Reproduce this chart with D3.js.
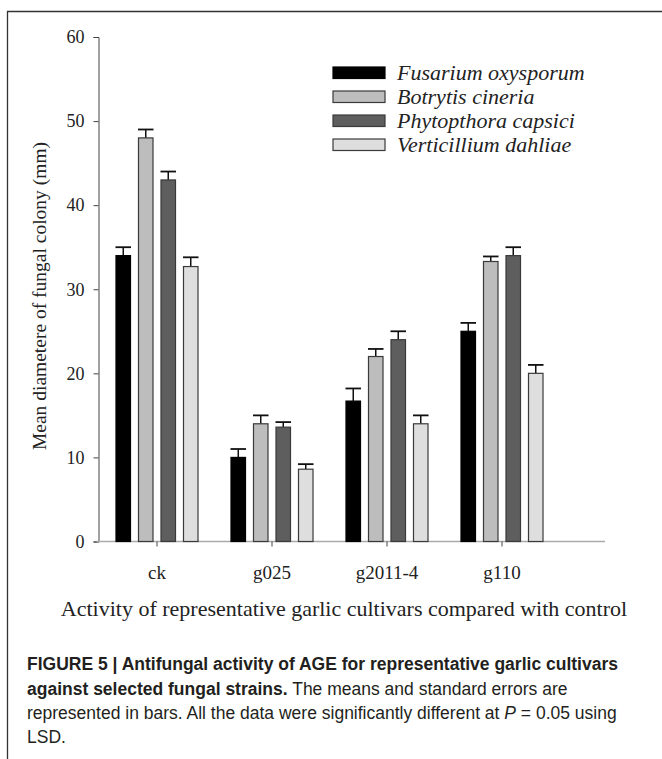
<!DOCTYPE html>
<html>
<head>
<meta charset="utf-8">
<script src="https://cdn.jsdelivr.net/npm/d3@7"></script>
<style>
  html, body { margin: 0; padding: 0; background: #fff; }
  svg { display: block; }
</style>
</head>
<body>
<svg id="chart" width="662" height="759"></svg>
<script>
const categories = ["ck", "g025", "g2011-4", "g110"];
const seriesNames = ["Fusarium oxysporum", "Botrytis cineria", "Phytopthora capsici", "Verticillium dahliae"];
const fusariumMean = [34.0, 10.0, 16.7, 25.0];
const fusariumErr  = [1.0, 1.0, 1.5, 1.0];
const botrytisMean = [48.0, 14.0, 22.0, 33.3];
const botrytisErr  = [1.0, 1.0, 0.9, 0.6];
const phytoMean    = [43.0, 13.6, 24.0, 34.0];
const phytoErr     = [1.0, 0.6, 1.0, 1.0];
const vertMean     = [32.7, 8.6, 14.0, 20.0];
const vertErr      = [1.1, 0.6, 1.0, 1.0];
const yTicks = [0, 10, 20, 30, 40, 50, 60];
const fills = ["#000000", "#bdbdbd", "#5e5e5e", "#dedede"];

const means = [fusariumMean, botrytisMean, phytoMean, vertMean];
const errs = [fusariumErr, botrytisErr, phytoErr, vertErr];

const svg = d3.select("#chart");
const serif = "'Liberation Serif', 'Times New Roman', serif";
const sans = "'Liberation Sans', Arial, Helvetica, sans-serif";

// frame
svg.append("path")
  .attr("d", "M7.5,759 L7.5,11.5 L662,11.5")
  .attr("fill", "none").attr("stroke", "#333").attr("stroke-width", 1.3);

const y = d3.scaleLinear().domain([0, 60]).range([541.5, 37]);
const x0 = d3.scaleBand().domain(categories).range([99.5, 559.5]).padding(0);
const x1 = d3.scaleBand().domain(d3.range(4)).range([-45, 45]).paddingInner(0.355).paddingOuter(0.1775);

// y axis
const yAxis = svg.append("g").attr("transform", "translate(98.5,0)")
  .call(d3.axisLeft(y).tickValues(yTicks).tickSize(5).tickPadding(9).tickFormat(d3.format("d")));
yAxis.select(".domain").attr("stroke", "#444").attr("stroke-width", 1);
yAxis.selectAll(".tick line").attr("stroke", "#444");
yAxis.selectAll("text").attr("font-family", serif).attr("font-size", 18).attr("fill", "#222");

// x axis
const xg = svg.append("g").attr("transform", "translate(0,541.5)");
xg.append("line").attr("x1", 96.5).attr("x2", 605).attr("stroke", "#aaa").attr("stroke-width", 1.5);
xg.selectAll(".xt").data(categories).enter().append("line")
  .attr("x1", d => x0(d) + x0.bandwidth() / 2).attr("x2", d => x0(d) + x0.bandwidth() / 2)
  .attr("y1", 0).attr("y2", 5).attr("stroke", "#444");
xg.selectAll(".xl").data(categories).enter().append("text")
  .attr("x", d => x0(d) + x0.bandwidth() / 2).attr("y", 37)
  .attr("text-anchor", "middle").attr("font-family", serif).attr("font-size", 19).attr("fill", "#222")
  .text(d => d);

// bars
const groups = svg.append("g").selectAll("g").data(categories).enter().append("g")
  .attr("transform", d => `translate(${x0(d) + x0.bandwidth() / 2},0)`);

groups.each(function(cat, ci) {
  const g = d3.select(this);
  for (let s = 0; s < 4; s++) {
    const v = means[s][ci], e = errs[s][ci];
    const bx = x1(s), bw = x1.bandwidth();
    g.append("line").attr("x1", bx + bw / 2).attr("x2", bx + bw / 2)
      .attr("y1", y(v)).attr("y2", y(v + e)).attr("stroke", "#111").attr("stroke-width", 1.5);
    g.append("line").attr("x1", bx - 0.5).attr("x2", bx + bw + 0.5)
      .attr("y1", y(v + e)).attr("y2", y(v + e)).attr("stroke", "#111").attr("stroke-width", 1.8);
    g.append("rect").attr("x", bx).attr("y", y(v)).attr("width", bw).attr("height", y(0) - y(v))
      .attr("fill", fills[s]).attr("stroke", s === 0 ? "#000" : "#3a3a3a").attr("stroke-width", 1.2);
  }
});

// axis titles
svg.append("text").attr("x", 344).attr("y", 616).attr("text-anchor", "middle")
  .attr("font-family", serif).attr("font-size", 22).attr("fill", "#222")
  .text("Activity of representative garlic cultivars compared with control");
svg.append("text").attr("transform", "translate(46,296) rotate(-90)").attr("text-anchor", "middle")
  .attr("font-family", serif).attr("font-size", 19.5).attr("fill", "#222")
  .text("Mean diametere of fungal colony (mm)");

// legend
const leg = svg.append("g");
seriesNames.forEach((n, i) => {
  const ly = 73 + i * 24;
  leg.append("rect").attr("x", 333).attr("y", ly - 6).attr("width", 52).attr("height", 11.5)
    .attr("fill", fills[i]).attr("stroke", i === 0 ? "#000" : "#3a3a3a").attr("stroke-width", 1.2);
  leg.append("text").attr("x", 397).attr("y", ly + 7).attr("font-family", serif)
    .attr("font-style", "italic").attr("font-size", 22).attr("fill", "#222").text(n);
});

// caption
const cap = svg.append("g").attr("font-family", sans).attr("font-size", 17.5).attr("fill", "#231f20");
const l1 = cap.append("text").attr("x", 27).attr("y", 670);
l1.append("tspan").attr("font-weight", "bold").text("FIGURE 5 | Antifungal activity of AGE for representative garlic cultivars");
const l2 = cap.append("text").attr("x", 27).attr("y", 695);
l2.append("tspan").attr("font-weight", "bold").text("against selected fungal strains.");
l2.append("tspan").text(" The means and standard errors are");
const l3 = cap.append("text").attr("x", 27).attr("y", 719);
l3.append("tspan").text("represented in bars. All the data were significantly different at ");
l3.append("tspan").attr("font-style", "italic").text("P");
l3.append("tspan").text(" = 0.05 using");
cap.append("text").attr("x", 27).attr("y", 743).text("LSD.");
</script>
</body>
</html>
